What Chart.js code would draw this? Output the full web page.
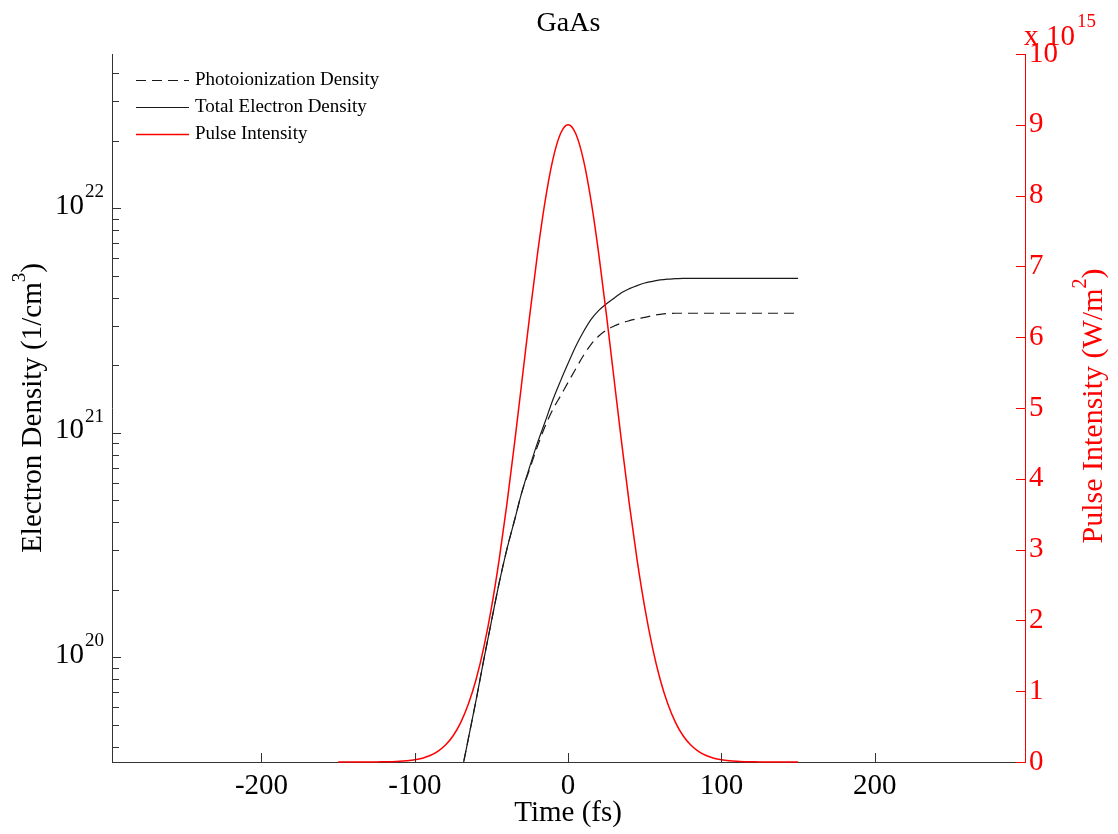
<!DOCTYPE html>
<html>
<head>
<meta charset="utf-8">
<title>GaAs</title>
<script src="https://cdn.jsdelivr.net/npm/chart.js@4.4.0/dist/chart.umd.min.js"></script>
<style>
  html, body { margin: 0; padding: 0; background: #fff; }
  #wrap { position: relative; width: 1118px; height: 834px; }
</style>
</head>
<body>
<div id="wrap"><canvas id="chart"></canvas></div>
<script>
// Time axis (fs), sampled every 5 fs
const timeFs = [
  -150, -145, -140, -135, -130, -125, -120, -115, -110, -105,
  -100, -95, -90, -85, -80, -75, -70, -65, -60, -55,
  -50, -45, -40, -35, -30, -25, -20, -15, -10, -5,
  0, 5, 10, 15, 20, 25, 30, 35, 40, 45,
  50, 55, 60, 65, 70, 75, 80, 85, 90, 95,
  100, 105, 110, 115, 120, 125, 130, 135, 140, 145, 150
];

// Electron densities (1/cm^3); below the axis floor before -70 fs
const photoDensity = [
  null, null, null, null, null, null, null, null, null, null,
  null, null, null, null, null, null, 2.95e19, 4.37e19, 6.46e19, 9.77e19,
  1.45e20, 2.14e20, 3.02e20, 4.07e20, 5.49e20, 6.92e20, 8.71e20, 1.07e21, 1.27e21, 1.46e21,
  1.68e21, 1.93e21, 2.21e21, 2.48e21, 2.70e21, 2.87e21, 2.99e21, 3.09e21, 3.16e21, 3.22e21,
  3.27e21, 3.33e21, 3.37e21, 3.40e21, 3.41e21, 3.41e21, 3.41e21, 3.41e21, 3.41e21, 3.41e21,
  3.41e21, 3.41e21, 3.41e21, 3.41e21, 3.41e21, 3.41e21, 3.41e21, 3.41e21, 3.41e21, 3.41e21, 3.41e21
];

const totalDensity = [
  null, null, null, null, null, null, null, null, null, null,
  null, null, null, null, null, null, 2.95e19, 4.37e19, 6.46e19, 9.77e19,
  1.45e20, 2.14e20, 3.02e20, 4.07e20, 5.50e20, 7.08e20, 9.02e20, 1.12e21, 1.40e21, 1.70e21,
  2.04e21, 2.43e21, 2.82e21, 3.20e21, 3.51e21, 3.76e21, 3.98e21, 4.22e21, 4.39e21, 4.53e21,
  4.65e21, 4.73e21, 4.80e21, 4.84e21, 4.86e21, 4.88e21, 4.88e21, 4.88e21, 4.88e21, 4.88e21,
  4.88e21, 4.88e21, 4.88e21, 4.88e21, 4.88e21, 4.88e21, 4.88e21, 4.88e21, 4.88e21, 4.88e21, 4.88e21
];

// Pulse intensity in units of 10^15 W/m^2
const pulseIntensity = [
  0, 0, 0, 0, 0, 0.001, 0.003, 0.005, 0.009, 0.017,
  0.031, 0.054, 0.091, 0.150, 0.239, 0.371, 0.560, 0.821, 1.169, 1.620,
  2.181, 2.856, 3.633, 4.494, 5.403, 6.315, 7.174, 7.922, 8.504, 8.873,
  9.000, 8.873, 8.504, 7.922, 7.174, 6.315, 5.403, 4.494, 3.633, 2.856,
  2.181, 1.620, 1.169, 0.821, 0.560, 0.371, 0.239, 0.150, 0.091, 0.054,
  0.031, 0.017, 0.009, 0.005, 0.003, 0.001, 0, 0, 0, 0, 0
];

const seriesLabels = ['Photoionization Density', 'Total Electron Density', 'Pulse Intensity'];
const xTicks = [-200, -100, 0, 100, 200];
const pulseTicks = [0, 1, 2, 3, 4, 5, 6, 7, 8, 9, 10];
const densityDecades = [20, 21, 22];

const SERIF = "'Liberation Serif', 'Times New Roman', serif";
const AXIS_COLOR = '#333333';
const RED = '#ff0000';

function toPoints(values) {
  return timeFs.map((t, i) => ({ x: t, y: values[i] }));
}

// draw text made of normal and superscript pieces, centred on (cx, cy)
function drawRich(ctx, parts, cx, cy, angle, size, color) {
  const supSize = Math.round(size * 0.66);
  ctx.save();
  ctx.translate(cx, cy);
  ctx.rotate(angle);
  ctx.fillStyle = color;
  ctx.textBaseline = 'middle';
  ctx.textAlign = 'left';
  let total = 0;
  parts.forEach(p => {
    ctx.font = (p.sup ? supSize : size) + 'px ' + SERIF;
    p.w = ctx.measureText(p.text).width;
    total += p.w;
  });
  let xx = -total / 2;
  parts.forEach(p => {
    ctx.font = (p.sup ? supSize : size) + 'px ' + SERIF;
    ctx.fillText(p.text, xx, p.sup ? -size * 0.45 : 0);
    xx += p.w;
  });
  ctx.restore();
}

const decorations = {
  id: 'decorations',
  afterDraw(chart) {
    const ctx = chart.ctx;
    const { x, y, y2 } = chart.scales;
    const area = chart.chartArea;
    ctx.save();

    // inward tick marks
    ctx.lineWidth = 1;
    ctx.strokeStyle = AXIS_COLOR;
    ctx.beginPath();
    xTicks.forEach(v => {
      const px = Math.round(x.getPixelForValue(v)) + 0.5;
      ctx.moveTo(px, area.bottom);
      ctx.lineTo(px, area.bottom - 9);
    });
    for (let d = 19; d <= 22; d++) {
      for (let m = 1; m <= 9; m++) {
        const v = m * Math.pow(10, d);
        if (v < y.min || v > y.max) continue;
        const py = Math.round(y.getPixelForValue(v)) + 0.5;
        ctx.moveTo(area.left, py);
        ctx.lineTo(area.left + (m === 1 ? 9 : 7), py);
      }
    }
    ctx.stroke();

    ctx.strokeStyle = RED;
    ctx.beginPath();
    pulseTicks.forEach(v => {
      const py = Math.round(y2.getPixelForValue(v)) + 0.5;
      ctx.moveTo(area.right, py);
      ctx.lineTo(area.right - 9, py);
    });
    ctx.stroke();

    // log tick labels 10^n
    ctx.fillStyle = '#000';
    ctx.textBaseline = 'middle';
    densityDecades.forEach(d => {
      const py = y.getPixelForValue(Math.pow(10, d));
      ctx.textAlign = 'right';
      ctx.font = '29px ' + SERIF;
      ctx.fillText('10', 84, py - 2);
      ctx.textAlign = 'left';
      ctx.font = '19px ' + SERIF;
      ctx.fillText(String(d), 85, py - 16);
    });

    // title and axis titles
    ctx.textAlign = 'center';
    ctx.font = '28px ' + SERIF;
    ctx.fillText('GaAs', (area.left + area.right) / 2, 24);
    ctx.font = '29px ' + SERIF;
    ctx.fillText('Time (fs)', x.getPixelForValue(0), 813);

    const midY = (area.top + area.bottom) / 2;
    drawRich(ctx, [{ text: 'Electron Density (1/cm' }, { text: '3', sup: true }, { text: ')' }],
      33, midY, -Math.PI / 2, 29, '#000');
    drawRich(ctx, [{ text: 'Pulse Intensity (W/m' }, { text: '2', sup: true }, { text: ')' }],
      1094, midY - 2, -Math.PI / 2, 30, RED);

    // exponent of the right axis
    ctx.fillStyle = RED;
    ctx.textAlign = 'left';
    ctx.textBaseline = 'alphabetic';
    ctx.font = '29px ' + SERIF;
    ctx.fillText('x', 1024, 45);
    ctx.fillText('10', 1046, 45);
    ctx.font = '19px ' + SERIF;
    ctx.fillText('15', 1077, 27);

    // legend in the upper left corner
    const ds = chart.data.datasets;
    ds.forEach((set, i) => {
      const ly = 80 + i * 27;
      ctx.strokeStyle = set.borderColor;
      ctx.lineWidth = set.borderWidth;
      ctx.setLineDash(set.borderDash || []);
      ctx.beginPath();
      ctx.moveTo(136, ly + 0.5);
      ctx.lineTo(189, ly + 0.5);
      ctx.stroke();
      ctx.setLineDash([]);
      ctx.fillStyle = '#000';
      ctx.font = '19px ' + SERIF;
      ctx.textBaseline = 'middle';
      ctx.fillText(set.label, 195, ly);
    });

    ctx.restore();
  }
};

const ctx = document.getElementById('chart').getContext('2d');
new Chart(ctx, {
  type: 'line',
  data: {
    datasets: [
      {
        label: seriesLabels[0],
        data: toPoints(photoDensity),
        yAxisID: 'y',
        borderColor: '#1a1a1a',
        borderWidth: 1.2,
        borderDash: [10, 6],
        pointRadius: 0,
        cubicInterpolationMode: 'monotone',
        order: 2
      },
      {
        label: seriesLabels[1],
        data: toPoints(totalDensity),
        yAxisID: 'y',
        borderColor: '#1a1a1a',
        borderWidth: 1.2,
        pointRadius: 0,
        cubicInterpolationMode: 'monotone',
        order: 1
      },
      {
        label: seriesLabels[2],
        data: toPoints(pulseIntensity),
        yAxisID: 'y2',
        borderColor: RED,
        borderWidth: 1.5,
        pointRadius: 0,
        cubicInterpolationMode: 'monotone',
        clip: 3,
        order: 0
      }
    ]
  },
  options: {
    responsive: true,
    maintainAspectRatio: false,
    animation: false,
    events: [],
    layout: { padding: { top: 54, left: 0, right: 0, bottom: 0 } },
    plugins: {
      legend: { display: false },
      tooltip: { enabled: false },
      title: { display: false }
    },
    scales: {
      x: {
        type: 'linear',
        min: -297.5,
        max: 298,
        afterBuildTicks: s => { s.ticks = xTicks.map(v => ({ value: v })); },
        afterFit: s => { s.height = 72; },
        grid: { display: false, drawTicks: false },
        border: { display: true, color: AXIS_COLOR, width: 1 },
        ticks: {
          color: '#000',
          padding: 7,
          maxRotation: 0,
          font: { family: SERIF, size: 29 }
        }
      },
      y: {
        type: 'logarithmic',
        position: 'left',
        min: 3.42e19,
        max: 4.87e22,
        afterFit: s => { s.width = 112; },
        grid: { display: false, drawTicks: false },
        border: { display: true, color: AXIS_COLOR, width: 1 },
        ticks: { display: false }
      },
      y2: {
        type: 'linear',
        position: 'right',
        min: 0,
        max: 10,
        afterBuildTicks: s => { s.ticks = pulseTicks.map(v => ({ value: v })); },
        afterFit: s => { s.width = 93; },
        grid: { display: false, drawTicks: false },
        border: { display: true, color: RED, width: 1 },
        ticks: {
          color: RED,
          padding: 4,
          font: { family: SERIF, size: 29 }
        }
      }
    }
  },
  plugins: [decorations]
});
</script>
</body>
</html>
